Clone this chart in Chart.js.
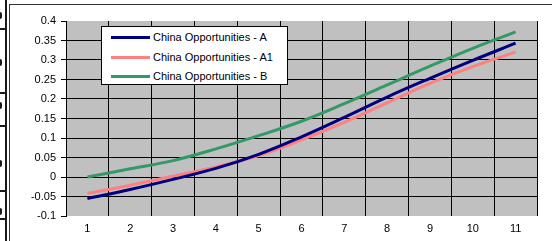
<!DOCTYPE html>
<html>
<head>
<meta charset="utf-8">
<script src="https://cdn.jsdelivr.net/npm/chart.js@4/dist/chart.umd.min.js"></script>
<style>
  html, body { margin: 0; padding: 0; background: #fff; }
  #wrap { position: relative; width: 552px; height: 241px; overflow: hidden; }
  #c { position: absolute; left: 0; top: 0; }
  .deco { position: absolute; background: #1a1a1a; }
  #legend { position: absolute; left: 101px; top: 26px; width: 185px; height: 57px;
            border: 1px solid #000; background: #fff; font: 11px "Liberation Sans", Arial, sans-serif; color: #000; }
  .li { position: absolute; left: 0; height: 14px; width: 185px; }
  .li .sw { position: absolute; left: 9px; top: 6px; width: 39px; height: 3px; }
  .li .tx { position: absolute; left: 51px; top: 0; line-height: 14px; white-space: nowrap; }
</style>
</head>
<body>
<div id="wrap">
  <canvas id="c" width="552" height="241"></canvas>
  <div id="legend"></div>
</div>
<script>
const categories = ["1","2","3","4","5","6","7","8","9","10","11"];
const seriesNames = ["China Opportunities - A", "China Opportunities - A1", "China Opportunities - B"];
const seriesA  = [-0.055, -0.032, -0.006, 0.022, 0.058, 0.103, 0.153, 0.205, 0.253, 0.299, 0.343];
const seriesA1 = [-0.042, -0.021, 0.002, 0.026, 0.055, 0.095, 0.140, 0.190, 0.240, 0.283, 0.320];
const seriesB  = [0.000, 0.021, 0.042, 0.072, 0.106, 0.143, 0.188, 0.236, 0.284, 0.330, 0.372];
const yTicks = [0.4, 0.35, 0.3, 0.25, 0.2, 0.15, 0.1, 0.05, 0, -0.05, -0.1];
const colors = ["#000080", "#FF8080", "#339966"];

// page frame decorations (not chart data)
const wrap = document.getElementById('wrap');
function deco(l, t, w, h, extra) {
  const d = document.createElement('div');
  d.className = 'deco';
  d.style.left = l + 'px'; d.style.top = t + 'px';
  d.style.width = w + 'px'; d.style.height = h + 'px';
  if (extra) Object.assign(d.style, extra);
  wrap.appendChild(d);
}
deco(5, 0, 2, 241);
[28, 92, 125, 190, 218].forEach(y => deco(0, y, 6, 2));
[15, 62, 105, 163, 211].forEach(y => deco(-2, y - 3, 4, 7, {borderRadius: '2px'}));
deco(9, 4, 1, 237, {background: '#333'});
deco(9, 4, 543, 1, {background: '#333'});

// legend
const legend = document.getElementById('legend');
seriesNames.forEach((n, i) => {
  const li = document.createElement('div');
  li.className = 'li';
  li.style.top = (3 + i * 19.5) + 'px';
  li.innerHTML = '<div class="sw" style="background:' + colors[i] + '"></div><div class="tx"></div>';
  li.querySelector('.tx').textContent = n;
  legend.appendChild(li);
});

const bgPlugin = {
  id: 'plotBg',
  beforeDraw(chart) {
    const {ctx, chartArea: a} = chart;
    ctx.save();
    ctx.fillStyle = '#C0C0C0';
    ctx.fillRect(a.left, a.top, a.right - a.left, a.bottom - a.top);
    ctx.restore();
  }
};

new Chart(document.getElementById('c'), {
  type: 'line',
  data: {
    labels: categories,
    datasets: [seriesA, seriesA1, seriesB].map((d, i) => ({
      label: seriesNames[i],
      data: d,
      borderColor: colors[i],
      backgroundColor: colors[i],
      borderWidth: 3,
      pointRadius: 0,
      tension: 0.4,
      fill: false
    }))
  },
  options: {
    responsive: false,
    animation: false,
    layout: { padding: { left: 10, right: 15, top: 21, bottom: 0 } },
    plugins: { legend: { display: false }, tooltip: { enabled: false } },
    scales: {
      x: {
        type: 'category',
        offset: true,
        afterFit(s) { s.height = 25; },
        grid: {
          offset: true,
          drawTicks: false,
          color: ctx => (ctx.index === 0 || ctx.index === categories.length) ? 'rgba(0,0,0,0)' : '#000',
          lineWidth: 1
        },
        border: { display: false },
        ticks: { color: '#000', padding: 6, font: { family: '"Liberation Sans", Arial, sans-serif', size: 11 }, maxRotation: 0 }
      },
      y: {
        min: -0.1,
        max: 0.4,
        afterFit(s) { s.width = 56; },
        afterBuildTicks(s) { s.ticks = yTicks.slice().reverse().map(v => ({ value: v })); },
        grid: {
          drawTicks: true,
          tickLength: 5,
          tickColor: '#000',
          color: ctx => (ctx.tick && (ctx.tick.value === 0.4 || ctx.tick.value === -0.1)) ? 'rgba(0,0,0,0)' : '#000',
          lineWidth: 1
        },
        border: { display: true, color: '#000', width: 1 },
        ticks: {
          color: '#000',
          padding: 5,
          font: { family: '"Liberation Sans", Arial, sans-serif', size: 11 },
          callback: v => String(Math.round(v * 100) / 100)
        }
      }
    }
  },
  plugins: [bgPlugin]
});
</script>
</body>
</html>
